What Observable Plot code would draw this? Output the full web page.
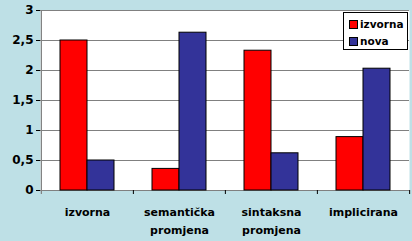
<!DOCTYPE html>
<html><head><meta charset="utf-8">
<script src="https://cdn.jsdelivr.net/npm/d3@7"></script>
<script src="https://cdn.jsdelivr.net/npm/@observablehq/plot@0.6"></script>
<style>
body{margin:0;background:#bee0e6;}
#wrap{position:relative;width:412px;height:241px;overflow:hidden;}
#wrap svg{background:transparent;}
.legend{position:absolute;left:343px;top:12px;width:65px;height:38px;background:#fff;border:1px solid #000;box-sizing:border-box;padding-top:3px;font:bold 10.5px "DejaVu Sans",sans-serif;color:#000;}
.legend .row{height:17px;line-height:17px;display:flex;align-items:center;padding-left:5px;}
.legend .sw{width:9px;height:9px;border:1px solid #000;margin-right:2px;box-sizing:border-box;}
</style></head><body><div id="wrap"></div>
<script>
const categories = ["izvorna", "semantička promjena", "sintaksna promjena", "implicirana"];
const series = ["izvorna", "nova"];
const izvorna = [2.5, 0.36, 2.33, 0.89];
const nova = [0.5, 2.63, 0.62, 2.03];
const colors = ["#ff0000", "#333399"];
const yTicks = [0, 0.5, 1, 1.5, 2, 2.5, 3];

const rows = categories.flatMap((c, i) => [
  {category: c, series: series[0], value: izvorna[i]},
  {category: c, series: series[1], value: nova[i]}
]);

const half = (409 - 40) / 8;
const font = {fontWeight: "bold", fontFamily: "DejaVu Sans"};

const chart = Plot.plot({
  width: 412, height: 241,
  marginLeft: 40, marginRight: 3, marginTop: 10, marginBottom: 51,
  style: {background: "transparent", color: "#000", fontFamily: "DejaVu Sans"},
  x: {domain: categories, padding: 0},
  y: {domain: [0, 3], ticks: yTicks},
  marks: [
    Plot.frame({fill: "white", stroke: null}),
    Plot.ruleY(yTicks, {stroke: "#808080", strokeWidth: 1.2}),
    Plot.barY(rows.filter(d => d.series === series[0]), {x: "category", y: "value", fill: colors[0], stroke: "#000", strokeWidth: 1, insetLeft: 19, insetRight: 46}),
    Plot.barY(rows.filter(d => d.series === series[1]), {x: "category", y: "value", fill: colors[1], stroke: "#000", strokeWidth: 1, insetLeft: 46, insetRight: 19}),
    Plot.ruleX(categories.slice(0, 1), {x: d => d, dx: -half, stroke: "#808080", strokeWidth: 1.2, insetBottom: -4}),
    Plot.ruleX(categories.slice(1), {x: d => d, dx: -half, y1: 0, y2: 0, stroke: "#000", insetBottom: -4}),
    Plot.ruleX(categories.slice(-1), {x: d => d, dx: half, y1: 0, y2: 0, stroke: "#000", insetBottom: -4}),
    Plot.axisY({ticks: yTicks, tickSize: 4, tickPadding: 3, label: null, fontSize: 12, tickFormat: d => String(d).replace(".", ","), ...font}),
    Plot.axisX({tickSize: 0, tickPadding: 12, label: null, fontSize: 11, lineHeight: 1.7, tickFormat: d => d.replace(" ", "\n"), ...font})
  ]
});

const wrap = document.getElementById("wrap");
wrap.appendChild(chart);
const legend = document.createElement("div");
legend.className = "legend";
series.forEach((s, i) => {
  const row = document.createElement("div");
  row.className = "row";
  const sw = document.createElement("span");
  sw.className = "sw";
  sw.style.background = colors[i];
  row.appendChild(sw);
  row.appendChild(document.createTextNode(s));
  legend.appendChild(row);
});
wrap.appendChild(legend);
</script></body></html>
